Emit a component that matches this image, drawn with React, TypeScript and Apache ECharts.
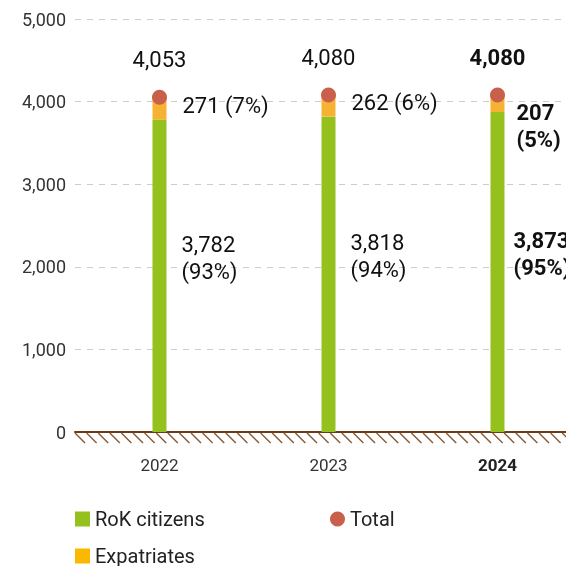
import React, { useEffect, useRef } from "react";
import * as echarts from "echarts";

const categories = ["2022", "2023", "2024"];
const rokValues = [3782, 3818, 3873];
const rokPct = [93, 94, 95];
const expatValues = [271, 262, 207];
const expatPct = [7, 6, 5];
const totalValues = [4053, 4080, 4080];
const yTicks = [0, 1000, 2000, 3000, 4000, 5000];

const FONT = "Roboto";
const fmt = (v: number) => v.toLocaleString("en-US");

export default function App() {
  const ref = useRef<HTMLDivElement>(null);
  useEffect(() => {
    if (!ref.current) return;
    const chart = echarts.init(ref.current, null, { renderer: "svg" });
    const last = categories.length - 1;
    const option: any = {
      animation: false,
      textStyle: { fontFamily: FONT },
      grid: { left: 75, right: 10, top: 19, bottom: 134, containLabel: false },
      legend: [
        {
          left: 70, top: 504, itemWidth: 15, itemHeight: 15, itemGap: 20,
          textStyle: { fontSize: 20, color: "#222", fontFamily: FONT },
          data: [{ name: "RoK citizens", icon: "rect" }],
        },
        {
          left: 325, top: 504, itemWidth: 15, itemHeight: 15,
          textStyle: { fontSize: 20, color: "#222", fontFamily: FONT },
          data: [{ name: "Total", icon: "circle" }],
        },
        {
          left: 70, top: 541, itemWidth: 15, itemHeight: 15,
          textStyle: { fontSize: 20, color: "#222", fontFamily: FONT },
          data: [{ name: "Expatriates", icon: "rect", itemStyle: { color: "#fbb800" } }],
        },
      ],
      xAxis: {
        type: "category",
        data: categories,
        axisLine: { show: true, lineStyle: { color: "#6b3a16", width: 2 } },
        axisTick: { show: false },
        axisLabel: {
          margin: 24,
          fontSize: 17,
          color: "#333",
          fontFamily: FONT,
          formatter: (v: string) => (v === categories[last] ? `{b|${v}}` : v),
          rich: { b: { fontWeight: "bold", fontSize: 17, color: "#222", fontFamily: FONT } },
        },
      },
      yAxis: {
        type: "value",
        min: yTicks[0],
        max: yTicks[yTicks.length - 1],
        interval: 1000,
        axisLine: { show: false },
        axisTick: { show: false },
        axisLabel: {
          margin: 9,
          fontSize: 18,
          color: "#333",
          fontFamily: FONT,
          formatter: (v: number) => fmt(v),
        },
        splitLine: { lineStyle: { color: "#cccccc", type: [6, 6], width: 1 } },
      },
      series: [
        {
          name: "RoK citizens",
          type: "bar",
          stack: "a",
          barWidth: 14,
          itemStyle: { color: "#95c11f" },
          data: rokValues.map((v, i) => ({
            value: v,
            label: {
              show: true,
              position: "right",
              distance: i === last ? 9 : 15,
              offset: [0, -18],
              align: "left",
              fontSize: 22,
              lineHeight: 27,
              color: "#111",
              fontFamily: FONT,
              fontWeight: i === last ? "bold" : "normal",
              formatter: `${fmt(v)}\n(${rokPct[i]}%)`,
            },
          })),
        },
        {
          name: "Expatriates",
          type: "bar",
          stack: "a",
          barWidth: 14,
          itemStyle: { color: "#f6b333" },
          data: expatValues.map((v, i) => ({
            value: v,
            label: {
              show: true,
              position: "right",
              distance: i === last ? 12 : 16,
              offset: [0, i === last ? 22 : -3],
              align: "left",
              fontSize: 22,
              lineHeight: 27,
              color: "#111",
              fontFamily: FONT,
              fontWeight: i === last ? "bold" : "normal",
              formatter: i === last ? `${fmt(v)}\n(${expatPct[i]}%)` : `${fmt(v)} (${expatPct[i]}%)`,
            },
          })),
        },
        {
          name: "Total",
          type: "scatter",
          symbol: "circle",
          symbolSize: 15,
          z: 5,
          itemStyle: { color: "#c9604b", opacity: 1 },
          data: totalValues.map((v, i) => ({
            value: v,
            label: {
              show: true,
              position: "top",
              distance: 19,
              fontSize: 22,
              color: "#111",
              fontFamily: FONT,
              fontWeight: i === last ? "bold" : "normal",
              formatter: fmt(v),
            },
          })),
        },
        {
          name: "ground",
          type: "custom",
          silent: true,
          clip: false,
          z: 1,
          data: [0],
          renderItem: (params: any, api: any) => {
            const cs = params.coordSys;
            const y0 = api.coord([0, 0])[1];
            const children: any[] = [];
            const step = 11.6;
            for (let x = cs.x; x < cs.x + cs.width; x += step) {
              children.push({
                type: "line",
                shape: { x1: x, y1: y0 + 1, x2: x + 10, y2: y0 + 11 },
                style: { stroke: "#8a5a32", lineWidth: 1.4 },
              });
            }
            return { type: "group", children };
          },
        },
      ],
    };
    chart.setOption(option);
    return () => chart.dispose();
  }, []);
  return (
    <div style={{ position: "fixed", left: 0, top: 0, width: 566, height: 566, overflow: "hidden" }}>
      <div ref={ref} style={{ width: 592, height: 566 }} />
    </div>
  );
}
